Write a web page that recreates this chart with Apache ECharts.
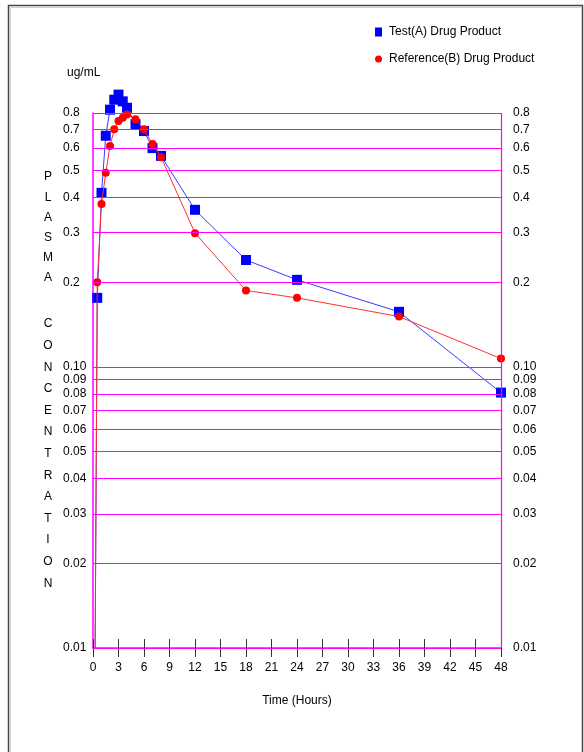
<!DOCTYPE html>
<html>
<head>
<meta charset="utf-8">
<script src="https://cdn.jsdelivr.net/npm/echarts@6/dist/echarts.min.js"></script>
<style>
html,body{margin:0;padding:0;background:#fff;}
#main{width:584px;height:752px;}
</style>
</head>
<body>
<div id="main"></div>
<script>
// sampling times (hours)
var times = [0.25, 0.5, 1, 1.5, 2, 2.5, 3, 3.5, 4, 5, 6, 7, 8, 12, 18, 24, 36, 48];
// plasma concentration ug/mL
var testA = [0.01, 0.176, 0.416, 0.664, 0.822, 0.892, 0.93, 0.88, 0.835, 0.73, 0.69, 0.60, 0.563, 0.362, 0.240, 0.204, 0.157, 0.081];
var refB  = [0.01, 0.20, 0.38, 0.49, 0.61, 0.70, 0.75, 0.77, 0.79, 0.76, 0.70, 0.62, 0.557, 0.299, 0.187, 0.176, 0.151, 0.107];
// y gridlines / tick labels
var yTicks  = [0.01, 0.02, 0.03, 0.04, 0.05, 0.06, 0.07, 0.08, 0.09, 0.1, 0.2, 0.3, 0.4, 0.5, 0.6, 0.7, 0.8];
var yLabels = ['0.01','0.02','0.03','0.04','0.05','0.06','0.07','0.08','0.09','0.10','0.2','0.3','0.4','0.5','0.6','0.7','0.8'];
var seriesNames = ['Test(A) Drug Product', 'Reference(B) Drug Product'];

var FONT = 'Liberation Sans, Arial, sans-serif';
var MAG = '#ff00ff';

function toData(vals){
	var d = [];
	for (var i = 0; i < times.length; i++) {
		if (i == 0) {
			d.push({value: [times[i], vals[i]], symbol: 'none'}); // below detection, no marker
		} else {
			d.push([times[i], vals[i]]);
		}
	}
	return d;
}

//gridlines with left labels
var leftLines = [], rightLines = [];
for (var i = 0; i < yTicks.length; i++) {
	leftLines.push({yAxis: yTicks[i], label: {formatter: yLabels[i]}});
	rightLines.push({yAxis: yTicks[i], label: {formatter: yLabels[i]}});
}
// right frame
leftLines.push({xAxis: 48, label: {show: false}});

//vertical "PLASMA CONCENTRATION"
var graphics = [];
var w1 = 'PLASMA', w2 = 'CONCENTRATION';
for (var i = 0; i < w1.length; i++) {
	graphics.push({type: 'text', x: 48, y: 177 + i * 20.2, style: {text: w1[i], font: '12px ' + FONT, fill: '#000', align: 'center', verticalAlign: 'middle'}});
}
for (var i = 0; i < w2.length; i++) {
	graphics.push({type: 'text', x: 48, y: 324 + i * 21.6, style: {text: w2[i], font: '12px ' + FONT, fill: '#000', align: 'center', verticalAlign: 'middle'}});
}
graphics.push({type: 'text', x: 67, y: 73, style: {text: 'ug/mL', font: '12px ' + FONT, fill: '#000', verticalAlign: 'middle'}});
graphics.push({type: 'text', x: 297, y: 701, style: {text: 'Time (Hours)', font: '12px ' + FONT, fill: '#000', align: 'center', verticalAlign: 'middle'}});
// page frame
graphics.push({type: 'rect', shape: {x: 8.5, y: 5.5, width: 574, height: 800}, style: {fill: 'none', stroke: '#444', lineWidth: 1.5}, z: -1});
graphics.push({type: 'rect', shape: {x: 10.5, y: 7.5, width: 571, height: 800}, style: {fill: 'none', stroke: '#d0d0d0', lineWidth: 1}, z: -1});

var myChart = echarts.init(document.getElementById('main'), null, {renderer: 'canvas'});

var option = {
	animation: false,
	backgroundColor: '#fff',
	textStyle: {fontFamily: FONT},
	grid: {left: 93, right: 83, top: 113, bottom: 104, containLabel: false},
	legend: {
		orient: 'vertical',
		left: 370,
		top: 21,
		itemWidth: 7,
		itemHeight: 9,
		itemGap: 15,
		selectedMode: false,
		textStyle: {fontSize: 12, color: '#000', fontFamily: FONT, padding: [0, 0, 0, 2]},
		data: [{name: seriesNames[0], icon: 'rect'}, {name: seriesNames[1], icon: 'circle'}]
	},
	xAxis: [{
		type: 'value',
		min: 0, max: 48, interval: 3,
		axisLine: {show: true, lineStyle: {color: MAG, width: 1.5}},
		axisTick: {show: true, length: 9, lineStyle: {color: '#333', width: 1}},
		axisLabel: {fontSize: 12, color: '#000', margin: 14, fontFamily: FONT},
		splitLine: {show: false}
	}, {
		// upper half of the crossing ticks
		type: 'value',
		min: 0, max: 48, interval: 3,
		position: 'bottom',
		axisLine: {show: false},
		axisTick: {show: true, inside: true, length: 9, lineStyle: {color: '#333', width: 1}},
		axisLabel: {show: false},
		splitLine: {show: false}
	}],
	yAxis: {
		type: 'log',
		logBase: 10,
		min: 0.01, max: 0.8,
		axisLine: {show: true, lineStyle: {color: MAG, width: 1.5}},
		axisTick: {show: false},
		axisLabel: {show: false},
		splitLine: {show: false}
	},
	graphic: graphics,
	series: [{
		name: seriesNames[0],
		type: 'line',
		clip: false,
		data: toData(testA),
		symbol: 'rect',
		symbolSize: 10,
		itemStyle: {color: '#0000ff'},
		lineStyle: {color: '#3a3aff', width: 1},
		markLine: {
			silent: true,
			symbol: 'none',
			animation: false,
			lineStyle: {color: MAG, type: 'solid', width: 1.2},
			label: {show: true, position: 'start', align: 'left', distance: 30, color: '#000', fontSize: 12, fontFamily: FONT},
			data: leftLines
		},
		z: 2
	}, {
		name: seriesNames[1],
		type: 'line',
		clip: false,
		data: toData(refB),
		symbol: 'circle',
		symbolSize: 8,
		itemStyle: {color: '#ff0000'},
		lineStyle: {color: '#ff3030', width: 1},
		markLine: {
			silent: true,
			symbol: 'none',
			animation: false,
			lineStyle: {color: 'rgba(0,0,0,0)', width: 0},
			label: {show: true, position: 'end', align: 'left', distance: 12, color: '#000', fontSize: 12, fontFamily: FONT},
			data: rightLines
		},
		z: 3
	}]
};

myChart.setOption(option);
</script>
</body>
</html>
